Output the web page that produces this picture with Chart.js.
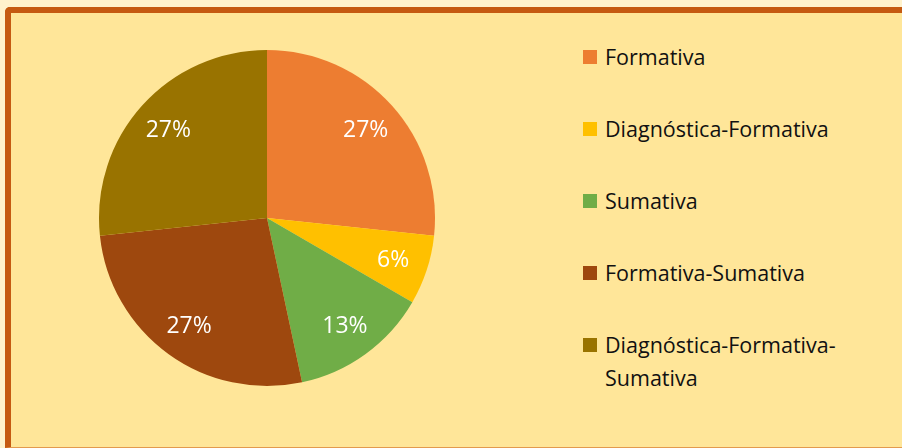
<!DOCTYPE html>
<html lang="es">
<head>
<meta charset="UTF-8">
<title>Tipos de evaluación</title>
<script src="https://cdn.jsdelivr.net/npm/chart.js@4.4.1/dist/chart.umd.min.js"></script>
<style>
  * { box-sizing: border-box; margin: 0; padding: 0; }
  html, body { width: 902px; height: 448px; overflow: hidden; background: #FFF2CC; font-family: "Open Sans", sans-serif; }
  .frame { position: absolute; left: 5px; top: 7px; width: 940px; height: 441px; background: #FFE699; border: 6px solid #C55A11; border-bottom: 1px solid #E39A4E; border-radius: 5px 0 0 0; }
  .pie-wrap { position: absolute; left: 97px; top: 48px; width: 340px; height: 340px; }
  #legend { position: absolute; left: 583px; top: 40px; width: 300px; }
  .legend-item { display: flex; align-items: flex-start; height: 72px; font-size: 21.5px; line-height: 33px; color: #111; }
  .legend-dot { width: 14px; height: 14px; flex-shrink: 0; margin-top: 10px; margin-right: 8px; }
</style>
</head>
<body>
<div class="frame"></div>
<div class="pie-wrap"><canvas id="pie" width="340" height="340"></canvas></div>
<div id="legend"></div>
<script>
const categories = ['Formativa', 'Diagnóstica-Formativa', 'Sumativa', 'Formativa-Sumativa', 'Diagnóstica-Formativa-Sumativa'];
const values = [26.7, 6.7, 13.3, 26.7, 26.7];
const percentLabels = ['27%', '6%', '13%', '27%', '27%'];
const colors = ['#ED7D31', '#FFC000', '#70AD47', '#9E480E', '#997300'];

// white percentage labels inside each slice
const sliceLabels = {
  id: 'sliceLabels',
  afterDatasetsDraw(chart) {
    const ctx = chart.ctx;
    const meta = chart.getDatasetMeta(0);
    ctx.save();
    ctx.fillStyle = '#ffffff';
    ctx.font = '23px "Open Sans", sans-serif';
    ctx.textAlign = 'center';
    ctx.textBaseline = 'middle';
    meta.data.forEach((arc, i) => {
      const a = (arc.startAngle + arc.endAngle) / 2;
      const r = arc.outerRadius * 0.79;
      ctx.fillText(percentLabels[i], arc.x + Math.cos(a) * r, arc.y + Math.sin(a) * r + 1);
    });
    ctx.restore();
  }
};

new Chart(document.getElementById('pie'), {
  type: 'pie',
  data: {
    labels: categories,
    datasets: [{ data: values, backgroundColor: colors, borderWidth: 0 }]
  },
  options: {
    responsive: false,
    animation: false,
    layout: { padding: 2 },
    plugins: { legend: { display: false }, tooltip: { enabled: false } }
  },
  plugins: [sliceLabels]
});

const legendEl = document.getElementById('legend');
categories.forEach((c, i) => {
  legendEl.innerHTML += `<div class="legend-item"><span class="legend-dot" style="background:${colors[i]}"></span><span>${c}</span></div>`;
});
</script>
</body>
</html>
